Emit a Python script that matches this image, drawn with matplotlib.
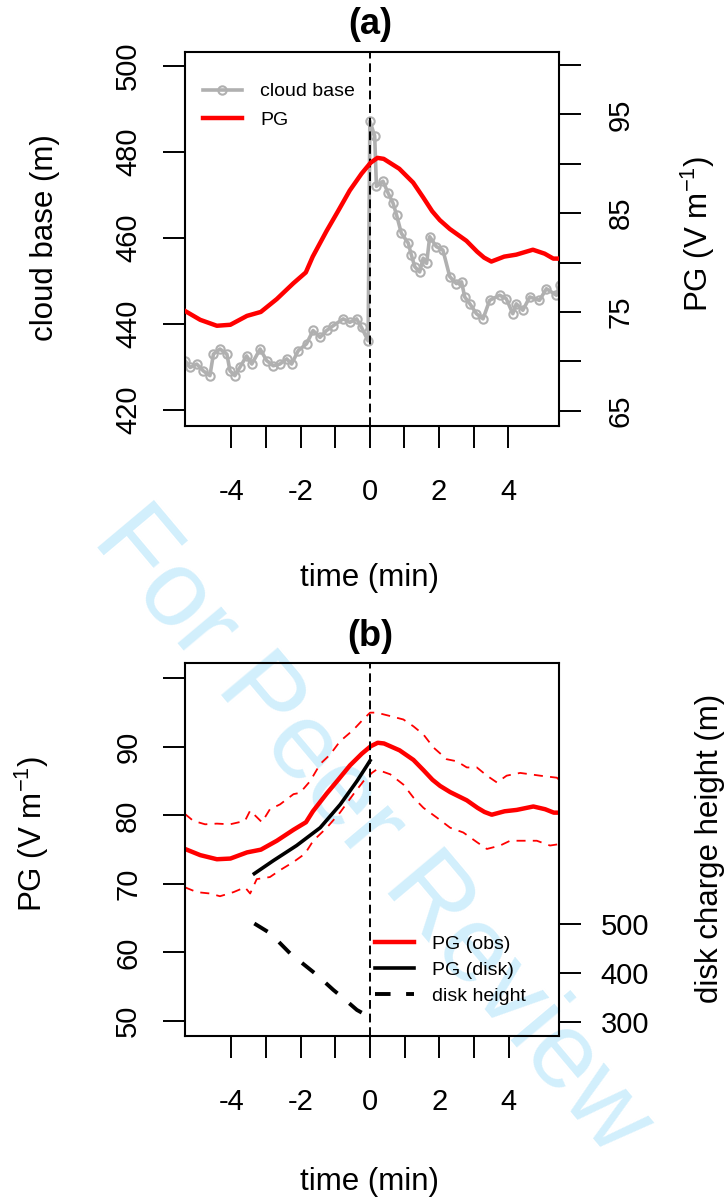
import matplotlib.pyplot as plt

plt.rcParams['font.family'] = ['Liberation Sans', 'DejaVu Sans']
plt.rcParams['mathtext.fontset'] = 'custom'
plt.rcParams['mathtext.rm'] = 'Liberation Sans'
plt.rcParams['mathtext.it'] = 'Liberation Sans:italic'

# ---- data ----
# (a) cloud base (m) against time (min)
cb_time = [-5.34, -5.19, -5.00, -4.81, -4.62, -4.52, -4.33, -4.13, -4.04, -3.90,
           -3.75, -3.56, -3.41, -3.17, -2.98, -2.79, -2.60, -2.40, -2.26, -2.07,
           -1.83, -1.64, -1.44, -1.25, -1.06, -0.77, -0.58, -0.38, -0.24, -0.05,
           0.00, 0.14, 0.19, 0.38, 0.53, 0.67, 0.77, 0.91, 1.11, 1.20,
           1.30, 1.44, 1.54, 1.64, 1.73, 1.92, 2.11, 2.31, 2.50, 2.65,
           2.74, 2.89, 3.08, 3.27, 3.46, 3.75, 3.94, 4.13, 4.23, 4.42,
           4.62, 4.90, 5.10, 5.39, 5.48]
cloud_base = [431.5, 429.9, 430.7, 429.1, 428.0, 433.0, 434.2, 433.0, 429.1, 428.0,
              430.0, 432.6, 430.7, 434.2, 431.5, 430.3, 430.7, 431.9, 430.7, 433.8,
              435.4, 438.5, 436.9, 438.5, 439.6, 441.2, 440.4, 441.2, 439.2, 436.1,
              487.2, 483.7, 472.0, 473.2, 470.4, 468.1, 465.4, 461.1, 458.8, 456.0,
              453.3, 452.1, 455.3, 454.1, 460.3, 458.0, 457.2, 451.0, 449.4, 449.8,
              446.3, 444.7, 442.4, 441.2, 445.5, 446.7, 445.9, 442.4, 444.7, 443.2,
              446.3, 445.5, 448.2, 446.7, 449.0]

# observed PG (V/m), used in both panels
pg_time = [-5.34, -4.90, -4.42, -4.03, -3.55, -3.15, -2.69, -2.21, -1.85, -1.65,
           -1.25, -0.92, -0.58, -0.24, 0.02, 0.22, 0.40, 0.85, 1.25, 1.54,
           1.80, 2.02, 2.31, 2.79, 3.10, 3.30, 3.51, 3.88, 4.23, 4.71,
           5.05, 5.30, 5.45]
pg_obs = [75.1, 74.2, 73.6, 73.7, 74.6, 75.0, 76.3, 77.9, 79.0, 80.6,
          83.2, 85.2, 87.3, 89.0, 90.1, 90.6, 90.5, 89.5, 88.1, 86.6,
          85.2, 84.3, 83.4, 82.2, 81.1, 80.5, 80.1, 80.6, 80.8, 81.3,
          80.9, 80.4, 80.4]

# (b) PG spread (dashed)
up_time = [-5.34, -5.10, -4.76, -4.42, -4.04, -3.61, -3.46, -3.12, -2.89, -2.60,
           -2.21, -2.02, -1.73, -1.44, -1.15, -0.87, -0.48, -0.24, 0.00, 0.19,
           0.58, 0.96, 1.25, 1.54, 1.83, 2.21, 2.50, 2.79, 3.08, 3.37,
           3.66, 3.94, 4.33, 4.62, 4.90, 5.39, 5.45]
pg_upper = [80.2, 79.2, 78.7, 78.8, 78.7, 79.2, 80.7, 79.0, 80.9, 81.6,
            83.1, 83.3, 85.0, 87.5, 88.9, 90.8, 92.5, 93.8, 95.0, 95.0,
            94.5, 94.0, 93.0, 91.8, 89.9, 88.2, 87.9, 87.0, 87.0, 85.8,
            84.8, 85.8, 86.2, 86.0, 85.8, 85.5, 85.2]
lo_time = [-5.34, -5.00, -4.62, -4.33, -3.94, -3.61, -3.46, -3.27, -2.89, -2.60,
           -2.21, -1.88, -1.64, -1.25, -0.87, -0.48, -0.19, 0.05, 0.19, 0.58,
           0.96, 1.25, 1.54, 1.92, 2.31, 2.69, 3.08, 3.37, 3.75, 4.04,
           4.42, 4.81, 5.19, 5.45]
pg_lower = [69.5, 68.8, 68.6, 68.2, 68.8, 69.5, 68.6, 70.7, 71.0, 72.0,
            73.2, 74.4, 76.3, 78.2, 80.4, 83.1, 85.0, 86.2, 86.7, 86.0,
            84.5, 82.6, 81.1, 79.7, 78.2, 77.5, 76.1, 75.1, 75.6, 76.3,
            76.3, 76.3, 75.6, 75.8]

# (b) disk model
disk_time = [-3.34, -2.79, -2.12, -1.44, -0.86, -0.38, -0.10, 0.00]
pg_disk = [71.5, 73.4, 75.6, 78.2, 81.6, 85.0, 87.2, 88.0]
dh_time = [-3.34, -2.88, -2.31, -1.54, -1.06, -0.77, -0.38, -0.05]
disk_height = [501, 481, 440, 396, 365, 348, 324, 311]

xticks = [-4, -3, -2, -1, 0, 1, 2, 3, 4]
xlabels = ['-4', '', '-2', '', '0', '', '2', '', '4']

# ---- figure ----
W, H = 728, 1204
fig = plt.figure(figsize=(W / 100, H / 100), dpi=100)


def box(l, t, r, b):
    return [l / W, 1 - b / H, (r - l) / W, (b - t) / H]


TL = 15.8
TW = 1.4
FS = 21


def style(ax, ax2):
    for s in ax.spines.values():
        s.set_linewidth(1.5)
    for s in ax2.spines.values():
        s.set_visible(False)
    ax.set_xlim(-5.34, 5.45)
    ax.set_xticks(xticks)
    ax.set_xticklabels(xlabels)
    ax.tick_params(axis='x', direction='out', length=TL, width=TW,
                   labelsize=FS, pad=22)
    ax.tick_params(axis='y', direction='out', length=TL, width=TW,
                   labelsize=FS, pad=15)
    ax2.tick_params(axis='y', direction='out', length=TL, width=TW,
                    labelsize=FS, pad=19)
    ax.axvline(0, color='black', lw=1.4, ls=(0, (4.5, 2.5)), zorder=5)


# panel (a)
ax = fig.add_axes(box(185, 51.7, 558.5, 426))
ax.set_facecolor('none')
ax2 = ax.twinx()
style(ax, ax2)
l1, = ax.plot(cb_time, cloud_base, color='#b0b0b0', lw=2.6, marker='o',
              ms=6, mfc='none', mec='#b0b0b0', mew=1.5, label='cloud base')
l2, = ax2.plot(pg_time, pg_obs, color='red', lw=3.2, label='PG')
ax.set_ylim(416.3, 503.3)
ax.set_yticks([420, 440, 460, 480, 500])
ax.set_yticklabels(['420', '440', '460', '480', '500'], rotation=90, va='center')
ax2.set_ylim(63.45, 101.35)
ax2.set_yticks([65, 70, 75, 80, 85, 90, 95, 100])
ax2.set_yticklabels(['65', '', '75', '', '85', '', '95', ''], rotation=90, va='center')
ax.legend(handles=[l1, l2], loc='upper left', bbox_to_anchor=(0.048, 0.917),
          frameon=False, fontsize=14, borderpad=0, borderaxespad=0,
          handlelength=2.0, handletextpad=0.95, labelspacing=0.55, numpoints=1)

# panel (b)
bx = fig.add_axes(box(185, 663.3, 559, 1036))
bx.set_facecolor('none')
bx2 = bx.twinx()
style(bx, bx2)
bx.plot(up_time, pg_upper, color='red', lw=1.3, ls=(0, (5, 4)))
bx.plot(lo_time, pg_lower, color='red', lw=1.3, ls=(0, (5, 4)))
m1, = bx.plot(pg_time, pg_obs, color='red', lw=3.2, label='PG (obs)')
m2, = bx.plot(disk_time, pg_disk, color='black', lw=2.6, label='PG (disk)')
m3, = bx2.plot(dh_time, disk_height, color='black', lw=2.8, ls=(0, (4, 4)),
               label='disk height')
bx.set_ylim(47.8, 102.2)
bx.set_yticks([50, 60, 70, 80, 90, 100])
bx.set_yticklabels(['50', '60', '70', '80', '90', ''], rotation=90, va='center')
bx2.set_ylim(270.7, 1033.7)
bx2.set_yticks([300, 400, 500])
bx2.set_yticklabels(['300', '400', '500'])
bx2.tick_params(axis='y', pad=14)
bx.legend(handles=[m1, m2, m3], loc='upper left', bbox_to_anchor=(0.508, 0.27),
          frameon=False, fontsize=14, borderpad=0, borderaxespad=0,
          handlelength=2.0, handletextpad=0.95, labelspacing=0.42)

# titles and axis labels
LS = 22.5
fig.text(370 / W, 1 - 25 / H, '(a)', fontsize=26, fontweight='bold',
         ha='center', va='center')
fig.text(370 / W, 1 - 636 / H, '(b)', fontsize=26, fontweight='bold',
         ha='center', va='center')
fig.text(370 / W, 1 - 578 / H, 'time (min)', fontsize=LS, ha='center', va='center')
fig.text(370 / W, 1 - 1182 / H, 'time (min)', fontsize=LS, ha='center', va='center')
fig.text(45 / W, 1 - 238 / H, 'cloud base (m)', fontsize=LS, rotation=90,
         ha='center', va='center')
fig.text(698 / W, 1 - 234 / H, r'PG (V m$^{-1}$)', fontsize=LS, rotation=90,
         ha='center', va='center')
fig.text(32 / W, 1 - 834 / H, r'PG (V m$^{-1}$)', fontsize=LS, rotation=90,
         ha='center', va='center')
fig.text(710 / W, 1 - 848 / H, 'disk charge height (m)', fontsize=LS, rotation=90,
         ha='center', va='center')

# watermark behind the axes
fig.text(372 / W, 1 - 832 / H, 'For Peer Review', fontsize=78, rotation=-50,
         color='#d2effc', ha='center', va='center', zorder=-1)

fig.savefig('out.png', dpi=100)
